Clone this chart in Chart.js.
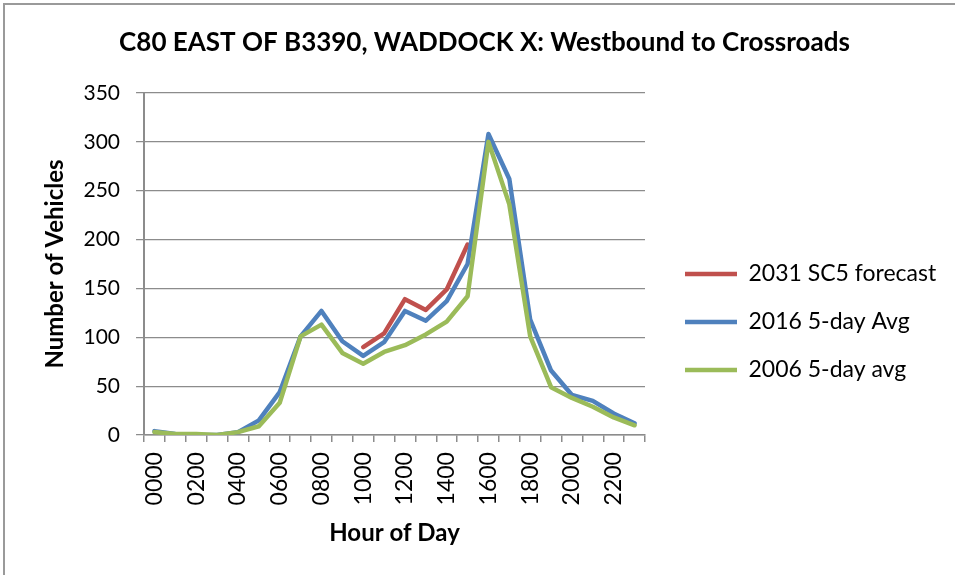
<!DOCTYPE html>
<html>
<head>
<meta charset="utf-8">
<title>C80 East of B3390, Waddock X</title>
<script src="https://cdn.jsdelivr.net/npm/chart.js@4.4.1/dist/chart.umd.min.js"></script>
<style>
  body { margin: 0; background: #fff; overflow: hidden; }
  #wrap { position: relative; width: 955px; height: 575px; overflow: hidden; }
  /* chart area border, only left and top edges are visible in the picture */
  #frame { position: absolute; left: 3px; top: 3px; width: 1000px; height: 700px;
           border: 2px solid #9a9a9a; pointer-events: none; }
</style>
</head>
<body>
<div id="wrap">
  <canvas id="trafficChart"></canvas>
  <div id="frame"></div>
</div>
<script>
// hour of day categories
const hours = ["0000", "0100", "0200", "0300", "0400", "0500", "0600", "0700",
  "0800", "0900", "1000", "1100", "1200", "1300", "1400", "1500",
  "1600", "1700", "1800", "1900", "2000", "2100", "2200", "2300"];

// vehicles per hour
const forecast2031 = [null, null, null, null, null, null, null, null,
  null, null, 90, 104, 139, 128, 149, 195,
  null, null, null, null, null, null, null, null];
const avg2016 = [4, 1, 0, 0, 3, 15, 44, 101, 127, 96, 81, 95,
  127, 117, 137, 175, 308, 262, 118, 66, 41, 35, 22, 12];
const avg2006 = [3, 1, 1, 0, 3, 9, 33, 101, 113, 84, 73, 85,
  92, 103, 116, 142, 300, 236, 101, 49, 38, 29, 18, 10];

const seriesNames = ["2031 SC5 forecast", "2016 5-day Avg", "2006 5-day avg"];
const yTicks = [0, 50, 100, 150, 200, 250, 300, 350];

const axisGrey = "#8c8c8c";
const FONT = "Lato";

Chart.defaults.color = "#000";
Chart.defaults.font.family = FONT;

// legend sizing: work out its width so the plot ends at the same place
const legendFont = 23;
const legendPad = 25;
const legendLine = 52;
const measure = document.createElement("canvas").getContext("2d");
measure.font = legendFont + "px " + FONT;
const legendTextW = Math.max(...seriesNames.map((s) => measure.measureText(s).width));
const legendW = Math.ceil(legendPad + legendLine + legendFont / 2 + legendTextW) + 1;
const padRight = 955 - 660 - legendW;
const padLeft = padRight + 14; // keeps the main title where it was

function lineSet(label, data, colour, order) {
  return {
    label: label,
    data: data,
    borderColor: colour,
    backgroundColor: colour,
    borderWidth: 4.5,
    borderCapStyle: "round",
    borderJoinStyle: "round",
    pointRadius: 0,
    pointHoverRadius: 0,
    tension: 0,
    spanGaps: false,
    order: order,
  };
}

const ctx = document.getElementById("trafficChart").getContext("2d");

new Chart(ctx, {
  type: "line",
  data: {
    labels: hours,
    datasets: [
      lineSet(seriesNames[0], forecast2031, "#c0504d", 3),
      lineSet(seriesNames[1], avg2016, "#4f81bd", 2),
      lineSet(seriesNames[2], avg2006, "#9bbb59", 1),
    ],
  },
  options: {
    responsive: true,
    maintainAspectRatio: false,
    animation: false,
    events: [],
    layout: {
      padding: { left: padLeft, right: padRight, top: 0, bottom: 27.6 },
    },
    scales: {
      x: {
        type: "category",
        offset: true,
        grid: {
          offset: true,
          drawOnChartArea: false,
          drawTicks: true,
          tickLength: 7,
          color: axisGrey,
          lineWidth: 1.5,
        },
        border: { color: axisGrey, width: 1.5 },
        ticks: {
          autoSkip: false,
          minRotation: 90,
          maxRotation: 90,
          padding: 10,
          font: { size: 23 },
          callback: function (value, index) {
            return index % 2 === 0 ? this.getLabelForValue(value) : "";
          },
        },
        title: {
          display: true,
          text: "Hour of Day",
          font: { size: 24, weight: "bold" },
          padding: { top: 3.2, bottom: 0 },
        },
      },
      y: {
        min: yTicks[0],
        max: yTicks[yTicks.length - 1],
        grid: {
          color: axisGrey,
          lineWidth: 1.25,
          drawTicks: true,
          tickLength: 8,
        },
        border: { color: axisGrey, width: 2 },
        afterBuildTicks: (scale) => {
          scale.ticks = yTicks.map((v) => ({ value: v }));
        },
        ticks: {
          padding: 16,
          font: { size: 21 },
        },
        title: {
          display: true,
          text: "Number of Vehicles",
          font: { size: 24, weight: "bold", lineHeight: 1 },
          padding: { top: Math.max(43 - padLeft, 0), bottom: 0.5 },
        },
      },
      // empty spacer so the legend sits a little away from the plot
      gap: {
        type: "linear",
        position: "right",
        display: true,
        grid: { display: false },
        border: { display: false },
        ticks: { display: false },
        afterFit: (scale) => {
          scale.width = 15;
        },
      },
    },
    plugins: {
      title: {
        display: true,
        text: "C80 EAST OF B3390, WADDOCK X: Westbound to Crossroads",
        font: { size: 26, weight: "bold" },
        padding: { top: 27.4, bottom: 34.4 },
      },
      legend: {
        position: "right",
        maxWidth: legendW,
        title: {
          display: true,
          text: "",
          font: { size: 10 },
          padding: { top: 84.6, bottom: 0 },
        },
        labels: {
          usePointStyle: true,
          pointStyle: "line",
          pointStyleWidth: legendLine,
          padding: legendPad,
          font: { size: legendFont },
          sort: (a, b) => a.datasetIndex - b.datasetIndex,
        },
      },
      tooltip: { enabled: false },
    },
  },
});
</script>
</body>
</html>
